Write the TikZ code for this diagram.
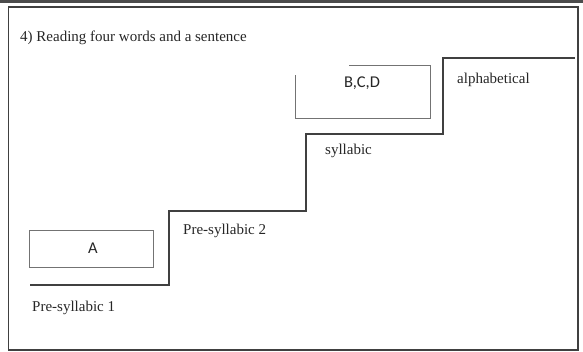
\documentclass[tikz,border=0pt]{standalone}
\usepackage{fontspec}
\setmainfont{Liberation Serif}
\newfontfamily\boxfont{Carlito}
\begin{document}
\begin{tikzpicture}[x=1pt,y=-1pt,
  lbl/.style={anchor=base west,inner sep=0pt,font=\fontsize{15}{18}\selectfont,text=black!85},
  boxtxt/.style={inner sep=0pt,font=\boxfont\fontsize{16.5}{19}\selectfont,text=black!85},
  stair/.style={draw=black!75,line width=1.6pt,line join=miter},
  thinbox/.style={draw=black!55,line width=0.8pt},
  frame/.style={draw=black!75,line width=1.1pt}]
\useasboundingbox (0,0) rectangle (583,351);
% outer frame
\draw[draw=black!70,line width=2.6pt] (0,1.3) -- (583,1.3);
\draw[frame] (8.5,7) rectangle (578,350);
% title
\node[lbl] (title) at (20,41) {4) Reading four words and a sentence};
% staircase
\coordinate (s0) at (30,285);
\coordinate (s1) at (169,285);
\coordinate (s2) at (169,211);
\coordinate (s3) at (306,211);
\coordinate (s4) at (306,134);
\coordinate (s5) at (443,134);
\coordinate (s6) at (443,58);
\coordinate (s7) at (575,58);
\draw[stair] (s0) -- (s1) -- (s2) -- (s3) -- (s4) -- (s5) -- (s6) -- (s7);
% box A
\draw[thinbox] (29,230) rectangle (153,267);
\node[boxtxt] (a) at (93,248) {A};
% box B,C,D (open at the top left)
\draw[thinbox] (349,65) -- (430,65) -- (430,118) -- (295,118) -- (295,75);
\node[boxtxt] (bcd) at (362,83) {B,C,D};
% step labels
\node[lbl] (ps1) at (32,311) {Pre-syllabic 1};
\node[lbl] (ps2) at (183,234) {Pre-syllabic 2};
\node[lbl] (syl) at (325,154) {syllabic};
\node[lbl] (alp) at (457,83) {alphabetical};
\end{tikzpicture}
\end{document}
